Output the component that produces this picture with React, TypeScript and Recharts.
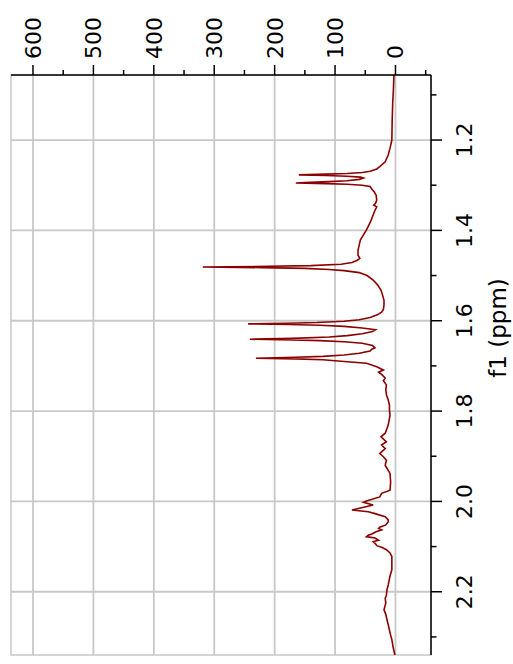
import React from "react";
import {
  LineChart,
  Line,
  XAxis,
  YAxis,
  CartesianGrid,
  ReferenceArea,
} from "recharts";

// chemical shift (ppm) and intensity
const ppm = [
  1.056, 1.09, 1.118, 1.16, 1.2, 1.218, 1.233, 1.248, 1.259, 1.264, 1.269,
  1.272, 1.274, 1.2755, 1.277, 1.2785, 1.28, 1.282, 1.284, 1.287, 1.29, 1.292,
  1.294, 1.295, 1.2965, 1.298, 1.3, 1.303, 1.309, 1.315, 1.322, 1.333, 1.34,
  1.344, 1.348, 1.356, 1.366, 1.38, 1.399, 1.41, 1.421, 1.432, 1.444, 1.455,
  1.462, 1.466, 1.471, 1.475, 1.478, 1.4795, 1.481, 1.4825, 1.484, 1.4865,
  1.489, 1.4935, 1.5, 1.51, 1.52, 1.532, 1.545, 1.555, 1.565, 1.575, 1.581,
  1.587, 1.593, 1.598, 1.601, 1.604, 1.6055, 1.607, 1.6085, 1.61, 1.6125,
  1.616, 1.62, 1.624, 1.629, 1.633, 1.636, 1.639, 1.641, 1.6425, 1.644,
  1.6465, 1.65, 1.655, 1.66, 1.663, 1.667, 1.672, 1.676, 1.679, 1.681, 1.683,
  1.6845, 1.6865, 1.689, 1.694, 1.702, 1.709, 1.714, 1.72, 1.727, 1.733,
  1.742, 1.753, 1.764, 1.775, 1.787, 1.798, 1.809, 1.831, 1.849, 1.857,
  1.868, 1.875, 1.883, 1.894, 1.901, 1.909, 1.92, 1.938, 1.957, 1.975, 1.982,
  1.99, 1.999, 2.002, 2.008, 2.019, 2.023, 2.027, 2.034, 2.041, 2.045, 2.052,
  2.057, 2.06, 2.063, 2.067, 2.072, 2.075, 2.078, 2.081, 2.086, 2.089, 2.094,
  2.098, 2.102, 2.107, 2.114, 2.122, 2.135, 2.151, 2.165, 2.185, 2.195, 2.207,
  2.215, 2.225, 2.24, 2.25, 2.262, 2.273, 2.285, 2.296, 2.306, 2.322, 2.34,
];

const intensity = [
  2.5, 3.5, 4.6, 5.5, 6, 9, 12, 17, 26, 31, 42,
  55, 80, 115, 160, 115, 80, 58, 53, 60, 80, 110,
  150, 165, 115, 80, 55, 42, 39, 35, 32, 31, 33,
  36, 31, 34, 37, 41, 48, 53, 58, 60, 62, 62,
  59, 63, 72, 90, 140, 210, 319, 220, 150, 110,
  85, 60, 47, 37, 30, 24, 21, 19, 19, 20, 23,
  30, 42, 60, 85, 130, 180, 244, 175, 125, 85,
  55, 33, 38, 55, 80, 110, 170, 241, 170, 125,
  85, 55, 38, 34, 39, 42, 60, 85, 120, 165, 231,
  165, 120, 95, 48, 31, 20, 28, 22, 17, 20,
  15, 16, 15, 12, 10, 10, 9, 12, 17, 24,
  15, 23, 17, 26, 20, 15, 17, 9, 8, 9, 23,
  26, 48, 53, 37, 72, 45, 34, 17, 12, 12, 16,
  26, 28, 23, 32, 39, 45, 48, 34, 28, 37, 33,
  31, 22, 15, 9, 6, 6, 6, 9, 12, 14, 15,
  17, 16, 19, 16, 14, 12, 10, 8, 6, 4, 1,
];

const ppmTicks = [1.1, 1.2, 1.3, 1.4, 1.5, 1.6, 1.7, 1.8, 1.9, 2.0, 2.1, 2.2, 2.3];
const ppmMajor = [1.2, 1.4, 1.6, 1.8, 2.0, 2.2];
const intTicks = [-50, 0, 50, 100, 150, 200, 250, 300, 350, 400, 450, 500, 550, 600];
const intMajor = [0, 100, 200, 300, 400, 500, 600];

const ppmDomain = [1.056, 2.34];
const intDomain = [-58.8, 636.4];

const data = ppm.map((p, i) => ({ ppm: p, value: intensity[i] }));

const FONT = "DejaVu Sans";

const PpmTick = (props: any) => {
  const { x, y, payload } = props;
  const major = Math.round(payload.value * 10) % 2 === 0;
  return (
    <g>
      <line x1={x} y1={y} x2={x} y2={y + (major ? 11 : 5.5)} stroke="#000" strokeWidth={1.5} />
      {major && (
        <text x={x} y={y + 41} textAnchor="middle" fontSize={22} fontFamily={FONT} fill="#000">
          {payload.value.toFixed(1)}
        </text>
      )}
    </g>
  );
};

const IntTick = (props: any) => {
  const { x, y, payload } = props;
  const major = payload.value % 100 === 0;
  return (
    <g>
      <line x1={x} y1={y} x2={x + (major ? 10 : 5)} y2={y} stroke="#000" strokeWidth={1.5} />
      {major && (
        <text x={x + 16} y={y + 8} textAnchor="start" fontSize={22} fontFamily={FONT} fill="#000">
          {payload.value}
        </text>
      )}
    </g>
  );
};

const AxisLabel = (props: any) => {
  const { viewBox } = props;
  return (
    <text
      x={viewBox.x + viewBox.width / 2 + 37}
      y={viewBox.y + viewBox.height + 3}
      textAnchor="middle"
      fontSize={23}
      fontFamily={FONT}
      fill="#000"
    >
      f1 (ppm)
    </text>
  );
};

export default function App() {
  return (
    <div style={{ position: "absolute", left: 0, top: 0, width: 513, height: 664, overflow: "hidden", background: "#fff" }}>
      <div
        style={{
          width: 664,
          height: 513,
          transformOrigin: "0 0",
          transform: "translateY(664px) rotate(-90deg)",
        }}
      >
        <LineChart width={664} height={513} data={data} margin={{ top: 11, left: 9, right: 0, bottom: 0 }}>
          {/* spacers push the axes 10px away from the frame */}
          <XAxis xAxisId="sp" type="number" height={10} tick={false} axisLine={false} tickLine={false} />
          <YAxis yAxisId="sp" orientation="right" type="number" width={10} tick={false} axisLine={false} tickLine={false} />

          <XAxis
            dataKey="ppm"
            type="number"
            domain={ppmDomain}
            reversed
            allowDataOverflow
            ticks={ppmTicks}
            interval={0}
            height={72}
            tickSize={0}
            tickMargin={0}
            tickLine={false}
            axisLine={{ stroke: "#000", strokeWidth: 1.5 }}
            tick={<PpmTick />}
            label={<AxisLabel />}
          />
          <YAxis
            type="number"
            orientation="right"
            domain={intDomain}
            allowDataOverflow
            ticks={intTicks}
            interval={0}
            width={65}
            tickSize={0}
            tickMargin={0}
            tickLine={false}
            axisLine={{ stroke: "#000", strokeWidth: 1.5 }}
            tick={<IntTick />}
          />

          <CartesianGrid
            verticalValues={ppmMajor}
            horizontalValues={intMajor}
            stroke="#c8c8c8"
            strokeWidth={1.8}
          />
          <ReferenceArea
            x1={ppmDomain[0]}
            x2={ppmDomain[1]}
            y1={intDomain[0]}
            y2={intDomain[1]}
            fill="none"
            fillOpacity={0}
            stroke="#c8c8c8"
            strokeWidth={1.5}
          />

          <Line
            type="linear"
            dataKey="value"
            stroke="#8b0000"
            strokeWidth={1.6}
            dot={false}
            isAnimationActive={false}
          />
        </LineChart>
      </div>
    </div>
  );
}
